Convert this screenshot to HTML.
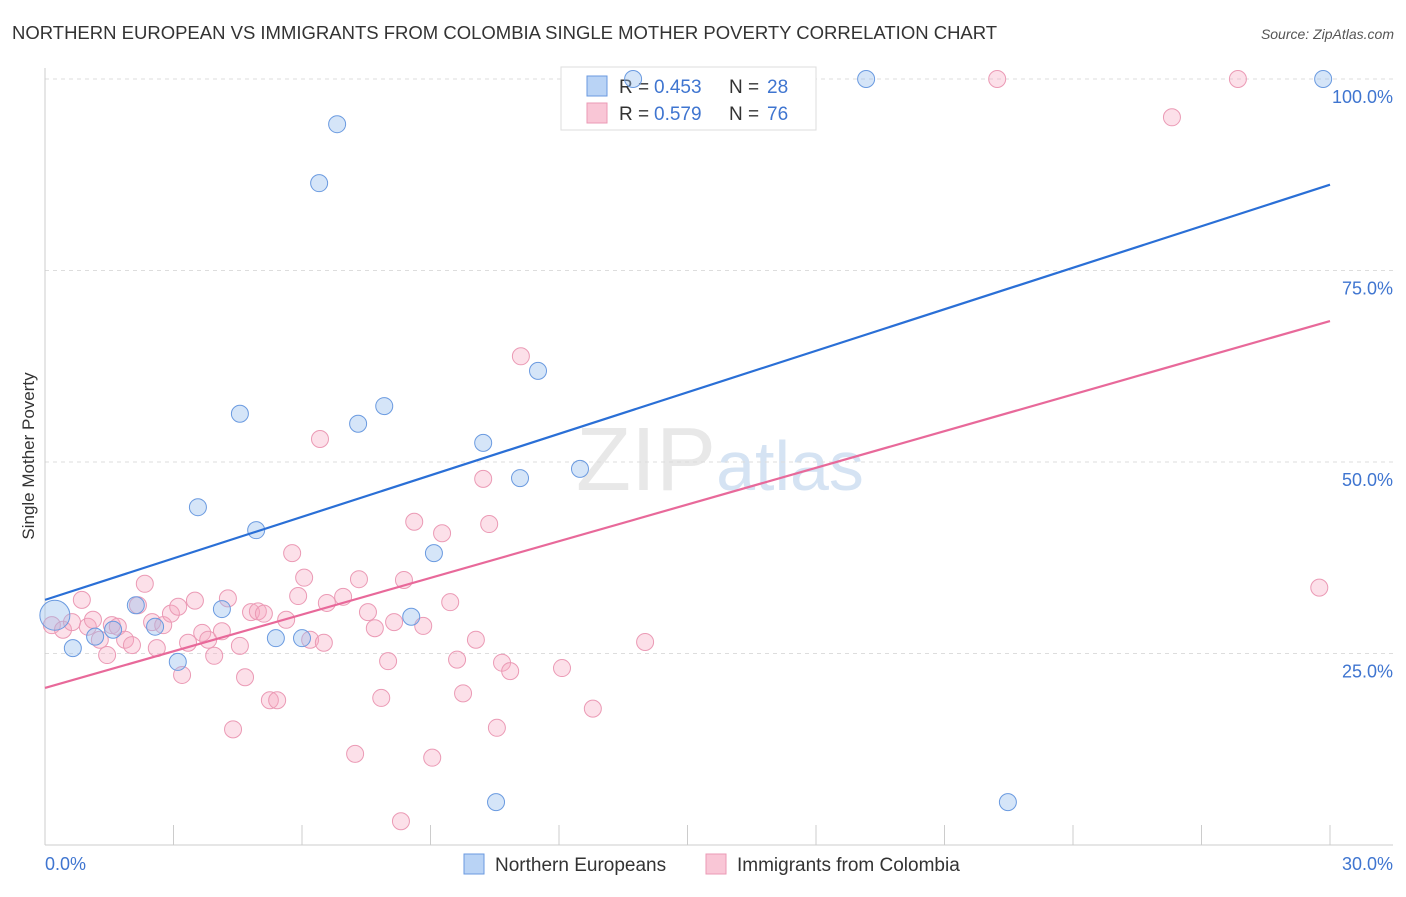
<!DOCTYPE html>
<html><head><meta charset="utf-8"><style>
body{margin:0;background:#fff;font-family:"Liberation Sans",sans-serif;}
svg text{font-family:"Liberation Sans",sans-serif;}
</style></head><body>
<svg id="c" width="1406" height="892" xmlns="http://www.w3.org/2000/svg">
<text x="12" y="39" font-size="18.5" fill="#333">NORTHERN EUROPEAN VS IMMIGRANTS FROM COLOMBIA SINGLE MOTHER POVERTY CORRELATION CHART</text>
<text x="1394" y="39" font-size="14" fill="#555" font-style="italic" text-anchor="end">Source: ZipAtlas.com</text>
<text x="34" y="456" font-size="17" fill="#333" text-anchor="middle" transform="rotate(-90 34 456)">Single Mother Poverty</text>
<text x="720" y="490" font-size="90" fill="#e8e8e8" text-anchor="middle" font-family="Liberation Serif">ZIP<tspan fill="#d5e3f3" font-family="Liberation Sans" font-size="70">atlas</tspan></text>
<g id="grid"></g><g id="axes"></g>
<g>
<rect x="561" y="67" width="255" height="63" fill="#fff" stroke="#ddd"/>
<rect x="587" y="76" width="20" height="20" fill="#b9d3f5" stroke="#6a9ae0"/>
<rect x="587" y="103" width="20" height="20" fill="#f9c6d6" stroke="#eb9ab5"/>
<text x="619" y="93" font-size="19" fill="#333">R =</text>
<text x="654" y="93" font-size="19" fill="#3f75d0">0.453</text>
<text x="729" y="93" font-size="19" fill="#333">N =</text>
<text x="767" y="93" font-size="19" fill="#3f75d0">28</text>
<text x="619" y="120" font-size="19" fill="#333">R =</text>
<text x="654" y="120" font-size="19" fill="#3f75d0">0.579</text>
<text x="729" y="120" font-size="19" fill="#333">N =</text>
<text x="767" y="120" font-size="19" fill="#3f75d0">76</text>
</g>
<g id="pts"></g><g id="lines"></g>
<g>
<rect x="464" y="854" width="20" height="20" fill="#b9d3f5" stroke="#6a9ae0"/>
<text x="495" y="871" font-size="19" fill="#333">Northern Europeans</text>
<rect x="706" y="854" width="20" height="20" fill="#f9c6d6" stroke="#eb9ab5"/>
<text x="737" y="871" font-size="19" fill="#333">Immigrants from Colombia</text>
</g>
</svg>
<script>
const blueX=[0.23,0.65,1.17,1.59,2.12,2.57,3.1,3.57,4.13,4.55,4.93,5.39,6.0,6.4,6.82,7.31,7.92,8.55,9.08,10.23,10.53,11.09,11.51,12.49,13.73,19.17,22.48,29.84];
const blueY=[30.0,25.7,27.2,28.1,31.3,28.5,23.9,44.1,30.8,56.3,41.1,27.0,27.0,86.4,94.1,55.0,57.3,29.8,38.1,52.5,5.6,47.9,61.9,49.1,100,100,5.6,100];
const pinkX=[0.16,0.42,0.63,0.86,1.0,1.12,1.28,1.45,1.56,1.7,1.87,2.03,2.17,2.33,2.5,2.61,2.76,2.94,3.11,3.2,3.34,3.5,3.67,3.81,3.95,4.13,4.27,4.39,4.55,4.67,4.81,4.97,5.11,5.25,5.42,5.63,5.77,5.91,6.05,6.19,6.42,6.51,6.58,6.96,7.24,7.33,7.54,7.7,7.85,8.01,8.15,8.31,8.38,8.62,8.83,9.04,9.27,9.46,9.62,9.76,10.06,10.23,10.37,10.55,10.67,10.86,11.11,12.07,12.79,14.01,22.23,26.31,27.85,29.75];
const pinkY=[28.7,28.1,29.1,32.0,28.5,29.4,26.8,24.8,28.7,28.5,26.8,26.1,31.3,34.1,29.1,25.7,28.7,30.2,31.1,22.2,26.4,31.9,27.7,26.8,24.7,27.9,32.2,15.1,26.0,21.9,30.4,30.5,30.2,18.9,18.9,29.4,38.1,32.5,34.9,26.8,53.0,26.4,31.6,32.4,11.9,34.7,30.4,28.3,19.2,24.0,29.1,3.1,34.6,42.2,28.6,11.4,40.7,31.7,24.2,19.8,26.8,47.8,41.9,15.3,23.8,22.7,63.8,23.1,17.8,26.5,100,95.0,100,33.6];
const blueTrend=[32.0,86.2];
const pinkTrend=[20.5,68.4];
const yTicks=[25,50,75,100];
const xTicks=[0,3,6,9,12,15,18,21,24,27,30];
const NS="http://www.w3.org/2000/svg";
const X=v=>45+v/30*1285, Y=v=>845-v/100*766;
function mk(t,a,p){const e=document.createElementNS(NS,t);for(const k in a)e.setAttribute(k,a[k]);document.getElementById(p).appendChild(e);return e;}
yTicks.forEach(t=>{
 const l=mk('line',{x1:45,x2:1393,y1:Y(t),y2:Y(t),stroke:'#ddd','stroke-dasharray':'4,4'},'grid');
 
 
 const tx=mk('text',{x:1393,y:Y(t)+24,'font-size':18,fill:'#3f75d0','text-anchor':'end'},'grid');
 tx.textContent=t.toFixed(1)+'%';
 
 
});
mk('line',{x1:45,x2:45,y1:68,y2:845,stroke:'#ccc'},'axes');
mk('line',{x1:45,x2:1393,y1:845,y2:845,stroke:'#ccc'},'axes');
xTicks.forEach(t=>{const l=mk('line',{x1:X(t),x2:X(t),y1:825,y2:845,stroke:'#ccc'},'axes');
 
 });
const x0=mk('text',{x:45,y:870,'font-size':18,fill:'#3f75d0'},'axes');x0.textContent=xTicks[0].toFixed(1)+'%';


const x1=mk('text',{x:1393,y:870,'font-size':18,fill:'#3f75d0','text-anchor':'end'},'axes');x1.textContent=xTicks[xTicks.length-1].toFixed(1)+'%';


pinkX.forEach((v,i)=>{const c=mk('circle',{cx:X(v),cy:Y(pinkY[i]),r:8.5,fill:'rgba(245,165,192,0.35)',stroke:'#eb9ab5','stroke-width':1},'pts');
 
 });
blueX.forEach((v,i)=>{const c=mk('circle',{cx:X(v),cy:Y(blueY[i]),r:i==0?15:8.5,fill:'rgba(150,190,238,0.4)',stroke:'#6a9ae0','stroke-width':1},'pts');
 
 });
const bl=mk('line',{x1:X(0),x2:X(30),y1:Y(blueTrend[0]),y2:Y(blueTrend[1]),stroke:'#2a6fd6','stroke-width':2.2},'lines');


const pl=mk('line',{x1:X(0),x2:X(30),y1:Y(pinkTrend[0]),y2:Y(pinkTrend[1]),stroke:'#e8699a','stroke-width':2.2},'lines');


</script>
</body></html>
